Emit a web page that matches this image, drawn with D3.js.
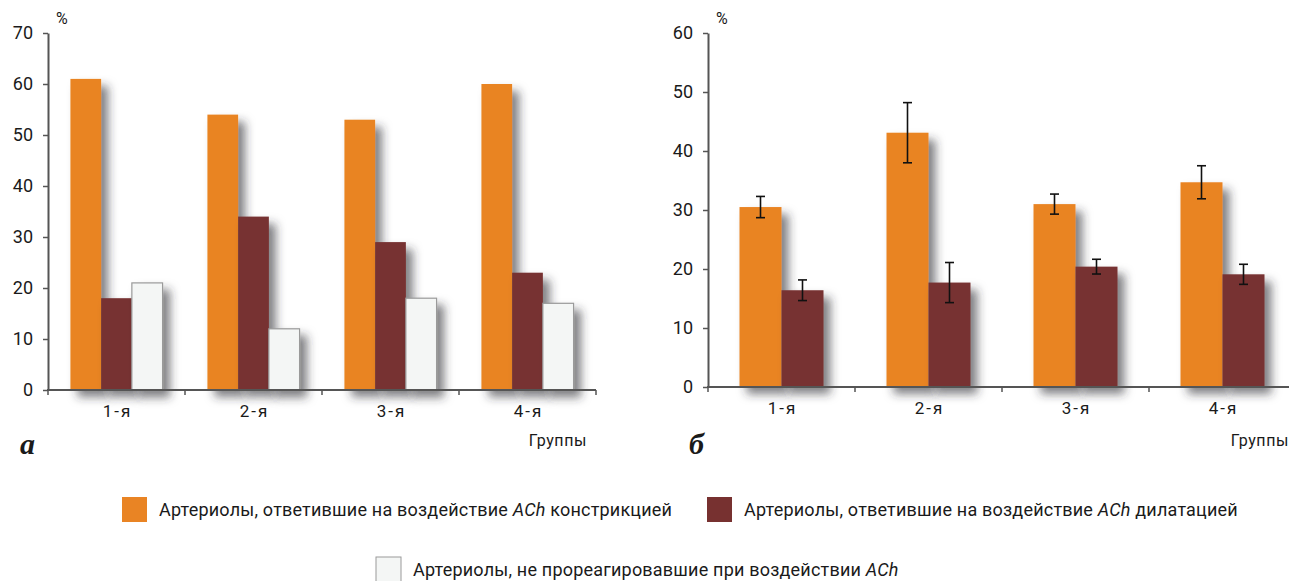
<!DOCTYPE html>
<html>
<head>
<meta charset="utf-8">
<script src="https://cdn.jsdelivr.net/npm/d3@7"></script>
<style>
  html, body { margin: 0; padding: 0; background: #fff; }
  svg { display: block; }
  text { font-family: Roboto, "Noto Sans", sans-serif; fill: #1a1a1a; }
</style>
</head>
<body>
<svg id="chart" width="1289" height="581"></svg>
<script>
// Groups of arterioles
const categories = ["1-я", "2-я", "3-я", "4-я"];

// Panel "а": share of arterioles, %
const aConstriction = [61, 54, 53, 60];
const aDilation     = [18, 34, 29, 23];
const aNoResponse   = [21, 12, 18, 17];
const aTicks = [0, 10, 20, 30, 40, 50, 60, 70];

// Panel "б": mean values with error
const bConstriction    = [30.5, 43.1, 31.0, 34.7];
const bConstrictionErr = [1.8, 5.1, 1.7, 2.8];
const bDilation        = [16.4, 17.7, 20.4, 19.1];
const bDilationErr     = [1.75, 3.4, 1.25, 1.7];
const bTicks = [0, 10, 20, 30, 40, 50, 60];

const seriesNames = [
  "Артериолы, ответившие на воздействие ACh констрикцией",
  "Артериолы, ответившие на воздействие ACh дилатацией",
  "Артериолы, не прореагировавшие при воздействии ACh"
];

const colors = { constriction: "#e98424", dilation: "#773130", none: "#f4f6f5" };

const svg = d3.select("#chart");

// soft drop shadow under the bars
const defs = svg.append("defs");
const f = defs.append("filter").attr("id", "shadow")
  .attr("x", "-40%").attr("y", "-10%").attr("width", "200%").attr("height", "140%");
f.append("feDropShadow").attr("dx", 7).attr("dy", 7).attr("stdDeviation", 5)
  .attr("flood-color", "#2a2a33").attr("flood-opacity", 0.6);

function panel(opts) {
  const g = svg.append("g");
  const x = d3.scaleBand().domain(categories).range(opts.xRange);
  const y = d3.scaleLinear().domain(opts.yDomain).range(opts.yRange);
  const inner = d3.scaleBand().domain(opts.series.map(s => s.key))
    .range([0, x.bandwidth()]).paddingOuter(opts.outerPad);

  // bars
  opts.series.forEach(s => {
    g.append("g").selectAll("rect").data(s.values).join("rect")
      .attr("x", (d, i) => x(categories[i]) + inner(s.key))
      .attr("y", d => y(d))
      .attr("width", inner.bandwidth())
      .attr("height", d => y(0) - y(d))
      .attr("fill", s.color)
      .attr("stroke", s.stroke || "none")
      .attr("stroke-width", s.stroke ? 1.2 : 0)
      .attr("filter", "url(#shadow)");
  });

  // error bars
  opts.series.filter(s => s.err).forEach(s => {
    const eg = g.append("g").attr("stroke", "#111").attr("stroke-width", 1.6);
    s.values.forEach((v, i) => {
      const cx = x(categories[i]) + inner(s.key) + inner.bandwidth() / 2;
      const y1 = y(v + s.err[i]), y2 = y(v - s.err[i]);
      eg.append("line").attr("x1", cx).attr("x2", cx).attr("y1", y1).attr("y2", y2);
      eg.append("line").attr("x1", cx - 4.5).attr("x2", cx + 4.5).attr("y1", y1).attr("y2", y1);
      eg.append("line").attr("x1", cx - 4.5).attr("x2", cx + 4.5).attr("y1", y2).attr("y2", y2);
    });
  });

  // y axis
  const ya = g.append("g").attr("transform", `translate(${opts.xRange[0]},0)`)
    .call(d3.axisLeft(y).tickValues(opts.ticks).tickSize(5).tickSizeOuter(0).tickPadding(10));
  ya.select(".domain").attr("stroke", "#555").attr("stroke-width", 2);
  ya.selectAll(".tick line").attr("stroke", "#555").attr("stroke-width", 1.5);
  ya.selectAll(".tick text").style("font-size", "18px").style("font-family", "Roboto")
    .attr("fill", "#1a1a1a");

  // x axis line with ticks on group boundaries
  const x0 = opts.xRange[0], x1 = Math.min(opts.xRange[1], opts.axisEnd);
  g.append("line").attr("x1", x0 - 1).attr("x2", x1).attr("y1", y(0)).attr("y2", y(0))
    .attr("stroke", "#555").attr("stroke-width", 2);
  const bounds = categories.map(c => x(c)).concat([opts.xRange[1]]);
  g.selectAll(".btick").data(bounds).join("line")
    .attr("x1", d => d).attr("x2", d => d)
    .attr("y1", y(0)).attr("y2", y(0) + 5)
    .attr("stroke", "#555").attr("stroke-width", 1.5);

  // category labels
  g.selectAll(".cat").data(categories).join("text")
    .attr("x", d => x(d) + x.bandwidth() / 2 + 1).attr("y", y(0) + 27)
    .attr("text-anchor", "middle").style("font-size", "17px")
    .style("letter-spacing", "2px").text(d => d);

  // unit and axis title
  g.append("text").attr("x", opts.xRange[0] + 8).attr("y", 24)
    .style("font-size", "16px").text("%");
  g.append("text").attr("x", opts.titleX).attr("y", 446)
    .attr("text-anchor", "end").style("font-size", "16px")
    .style("letter-spacing", "0.6px").text("Группы");

  // panel letter
  g.append("text").attr("x", opts.letterX).attr("y", 454)
    .style("font-family", "'Liberation Serif', 'DejaVu Serif', serif")
    .style("font-style", "italic").style("font-weight", "bold")
    .style("font-size", "30px").text(opts.letter);
}

panel({
  xRange: [48, 596], axisEnd: 597, yDomain: [0, 70], yRange: [390, 33],
  ticks: aTicks, outerPad: 0.73, titleX: 587, letterX: 20, letter: "а",
  series: [
    { key: "c", values: aConstriction, color: colors.constriction },
    { key: "d", values: aDilation, color: colors.dilation },
    { key: "n", values: aNoResponse, color: colors.none, stroke: "#9a9a9a" }
  ]
});

panel({
  xRange: [708, 1296], axisEnd: 1289, yDomain: [0, 60], yRange: [387, 33],
  ticks: bTicks, outerPad: 0.75, titleX: 1289, letterX: 689, letter: "б",
  series: [
    { key: "c", values: bConstriction, color: colors.constriction, err: bConstrictionErr },
    { key: "d", values: bDilation, color: colors.dilation, err: bDilationErr }
  ]
});

// legend
const legendItems = [
  { name: seriesNames[0], fill: colors.constriction, x: 122, y: 497 },
  { name: seriesNames[1], fill: colors.dilation, x: 707, y: 497 },
  { name: seriesNames[2], fill: colors.none, stroke: "#9a9a9a", x: 376, y: 557 }
];
const lg = svg.append("g");
legendItems.forEach(it => {
  lg.append("rect").attr("x", it.x).attr("y", it.y).attr("width", 25).attr("height", 25)
    .attr("fill", it.fill).attr("stroke", it.stroke || "none").attr("stroke-width", 1);
  const t = lg.append("text").attr("x", it.x + 37).attr("y", it.y + 19)
    .style("font-size", "18px").style("letter-spacing", "0.2px");
  const parts = it.name.split("ACh");
  t.append("tspan").text(parts[0]);
  t.append("tspan").style("font-style", "italic").text("ACh");
  if (parts[1]) t.append("tspan").text(parts[1]);
});
</script>
</body>
</html>
